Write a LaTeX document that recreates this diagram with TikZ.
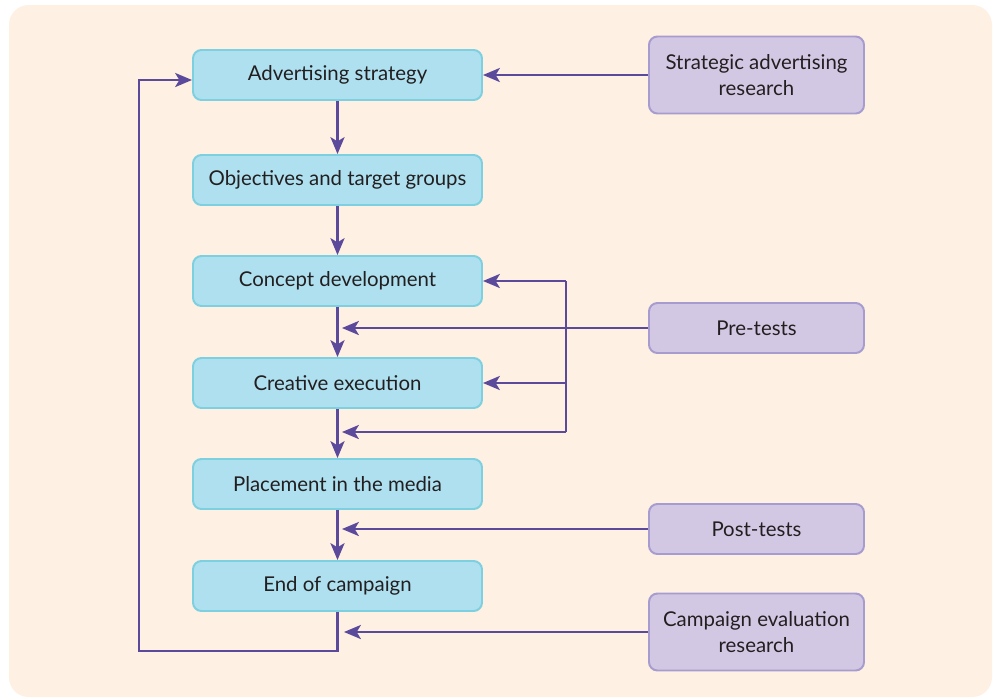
\documentclass[tikz,border=0pt]{standalone}
\usepackage{fontspec}
\setmainfont{Lato}
\usetikzlibrary{positioning,arrows.meta}

\definecolor{bgpeach}{HTML}{FEF0E2}
\definecolor{stepfill}{HTML}{AEE0F0}
\definecolor{stepdraw}{HTML}{7DD0E0}
\definecolor{resfill}{HTML}{D3C8E3}
\definecolor{resdraw}{HTML}{A79CCF}
\definecolor{flow}{HTML}{5B4A9B}
\definecolor{ink}{HTML}{231F20}

\begin{document}
\begin{tikzpicture}[
  x=0.025cm, y=-0.025cm,
  font=\fontsize{14.5}{18.5}\selectfont, text=ink,
  stage/.style={rectangle, rounded corners=6pt, draw=stepdraw, line width=1.4pt,
                fill=stepfill, minimum width=289*0.025cm, minimum height=50*0.025cm,
                inner sep=2pt, align=center},
  res/.style={stage, draw=resdraw, fill=resfill, minimum width=215*0.025cm},
  tall/.style={minimum height=77*0.025cm},
  link/.style={-{Stealth[length=12pt,width=10pt,inset=3pt]}, draw=flow, line width=1.7pt},
  wire/.style={draw=flow, line width=1.7pt}
]
\useasboundingbox (0,0) rectangle (994,699);
\fill[bgpeach, rounded corners=14pt] (9,5) rectangle (992,697);

% campaign stages
\node[stage] (strat) at (337.5, 75) {Advertising strategy};
\node[stage] (obj)   at (337.5,180) {Objectives and target groups};
\node[stage] (conc)  at (337.5,281) {Concept development};
\node[stage] (exec)  at (337.5,383) {Creative execution};
\node[stage] (place) at (337.5,484) {Placement in the media};
\node[stage] (endc)  at (337.5,586) {End of campaign};

% research
\node[res, tall] (sar)  at (756.5, 75) {Strategic advertising\\research};
\node[res]       (pre)  at (756.5,328) {Pre-tests};
\node[res]       (post) at (756.5,529) {Post-tests};
\node[res, tall] (cer)  at (756.5,632) {Campaign evaluation\\research};

\coordinate (fork) at (566,432);

\draw[link] (strat) -- (obj);
\draw[link] (obj) -- (conc);
\draw[link] (conc) -- (exec);
\draw[link] (exec) -- (place);
\draw[link] (place) -- (endc);

\draw[link] (sar) -- (strat);
\draw[link] (pre.west) -- (pre.west -| 342,0);
\draw[link] (post.west) -- (post.west -| 342,0);
\draw[link] (cer.west) -- (cer.west -| 344,0);

% pre-test feedback
\draw[wire] (fork) -- (fork |- conc.east);
\draw[link] (fork |- conc.east) -- (conc.east);
\draw[link] (fork |- exec.east) -- (exec.east);
\draw[link] (fork) -- (342,432);

% loop back
\draw[link] (endc.south) -- (337.5,651) -| (139,80) -- (strat.west |- 0,80);
\end{tikzpicture}
\end{document}
